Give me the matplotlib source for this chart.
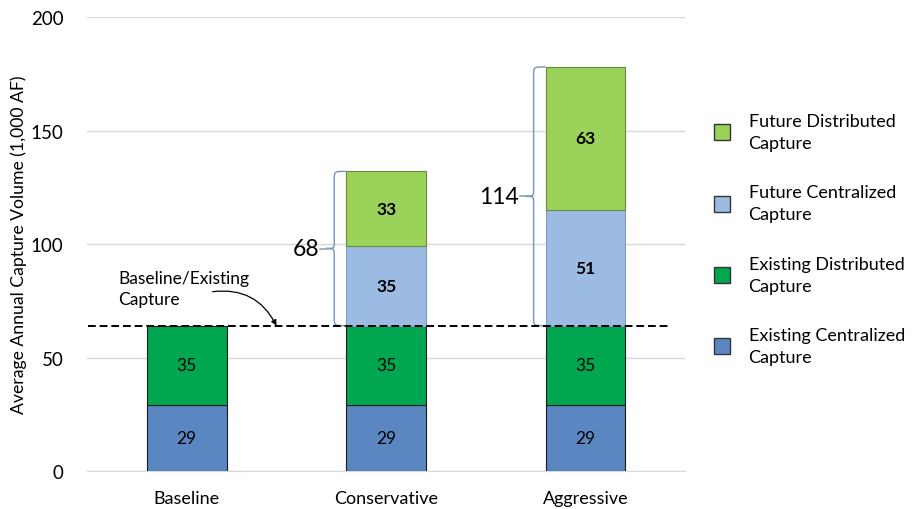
import matplotlib
matplotlib.use("Agg")
import matplotlib.pyplot as plt
from matplotlib.patches import Patch, PathPatch
from matplotlib.path import Path
import numpy as np

plt.rcParams['font.family'] = ['Lato', 'DejaVu Sans']

categories = ["Baseline", "Conservative", "Aggressive"]
existing_centralized = [29, 29, 29]
existing_distributed = [35, 35, 35]
future_centralized = [0, 35, 51]
future_distributed = [0, 33, 63]
brace_labels = {1: "68", 2: "114"}
baseline_level = 64

c_ec = "#5A87C1"
c_ed = "#00A650"
c_fc = "#9BBBE3"
c_fd = "#9BD35A"

fig = plt.figure(figsize=(9.16, 5.10), dpi=100)
ax = fig.add_axes([0.095, 0.0745, 0.653, 0.8902])

x = np.arange(len(categories))
w = 0.4
ec = np.array(existing_centralized)
ed = np.array(existing_distributed)
fc = np.array(future_centralized)
fd = np.array(future_distributed)

ax.bar(x, ec, w, color=c_ec, edgecolor="#1a1a1a", linewidth=0.8, zorder=3)
ax.bar(x, ed, w, bottom=ec, color=c_ed, edgecolor="#1a1a1a", linewidth=0.8, zorder=3)
mask = fc > 0
ax.bar(x[mask], fc[mask], w, bottom=(ec + ed)[mask], color=c_fc, edgecolor="#7f9cc0", linewidth=0.8, zorder=3)
ax.bar(x[mask], fd[mask], w, bottom=(ec + ed + fc)[mask], color=c_fd, edgecolor="#6b8a3a", linewidth=0.8, zorder=3)

vfs = 12.5
for i in range(len(categories)):
    ax.text(x[i], ec[i] / 2, str(ec[i]), ha="center", va="center", fontsize=vfs, zorder=5)
    ax.text(x[i], ec[i] + ed[i] / 2, str(ed[i]), ha="center", va="center", fontsize=vfs, zorder=5)
    if fc[i] > 0:
        ax.text(x[i], ec[i] + ed[i] + fc[i] / 2, str(fc[i]), ha="center", va="center",
                fontsize=vfs, fontweight="bold", zorder=5)
        ax.text(x[i], ec[i] + ed[i] + fc[i] + fd[i] / 2, str(fd[i]), ha="center", va="center",
                fontsize=vfs, fontweight="bold", zorder=5)

# braces
def brace(xr, xs, xt, y0, y1, r=3.5):
    ym = (y0 + y1) / 2
    verts = [
        (xr, y1),
        (xs, y1), (xs, y1), (xs, y1 - r),
        (xs, ym + r),
        (xs, ym), (xs, ym), (xt, ym),
        (xs, ym), (xs, ym), (xs, ym - r),
        (xs, y0 + r),
        (xs, y0), (xs, y0), (xr, y0),
    ]
    codes = [Path.MOVETO,
             Path.CURVE4, Path.CURVE4, Path.CURVE4,
             Path.LINETO,
             Path.CURVE4, Path.CURVE4, Path.CURVE4,
             Path.CURVE4, Path.CURVE4, Path.CURVE4,
             Path.LINETO,
             Path.CURVE4, Path.CURVE4, Path.CURVE4]
    return PathPatch(Path(verts, codes), fill=False, edgecolor="#7f9cc0", lw=1.1, zorder=4)

for i, lab in brace_labels.items():
    top = ec[i] + ed[i] + fc[i] + fd[i]
    xl = x[i] - w / 2
    ax.add_patch(brace(xl, xl - 0.06, xl - 0.10, baseline_level, top))
    ym = (baseline_level + top) / 2
    ax.plot([xl - 0.10, xl - 0.13], [ym, ym], color="#7f9cc0", lw=1.1, zorder=4)
    ax.text(xl - 0.135, ym, lab, ha="right", va="center", fontsize=16.5)

# baseline dashed line
ax.plot([-0.495, 2.415], [baseline_level, baseline_level], color="black", lw=1.4,
        ls=(0, (4, 2)), zorder=6)
ax.text(-0.345, 80.5, "Baseline/Existing\nCapture", fontsize=12.5, ha="left", va="center",
        linespacing=1.35, zorder=7)
ax.annotate("", xy=(0.45, baseline_level), xytext=(0.13, 79),
            arrowprops=dict(arrowstyle="-|>", color="black", lw=0.9,
                            connectionstyle="arc3,rad=-0.35",
                            shrinkA=0, shrinkB=0, mutation_scale=8),
            zorder=7)

ax.set_xlim(-0.5, 2.5)
ax.set_ylim(0, 200)
ax.set_yticks([0, 50, 100, 150, 200])
ax.set_xticks(x)
ax.set_xticklabels(categories, fontsize=13)
ax.tick_params(axis="y", labelsize=13.5, length=0, pad=17)
ax.tick_params(axis="x", length=0, pad=14)
ax.grid(axis="y", color="#d9d9d9", lw=1, zorder=0)
for s in ["top", "right", "left"]:
    ax.spines[s].set_visible(False)
ax.spines["bottom"].set_color("#d9d9d9")
ax.set_ylabel("Average Annual Capture Volume (1,000 AF)", fontsize=12.7)
ax.yaxis.set_label_coords(-0.1, 0.5)

handles = [Patch(facecolor=c_fd, edgecolor="#333333"),
           Patch(facecolor=c_fc, edgecolor="#333333"),
           Patch(facecolor=c_ed, edgecolor="#333333"),
           Patch(facecolor=c_ec, edgecolor="#333333")]
labels = ["Future Distributed\nCapture", "Future Centralized\nCapture",
          "Existing Distributed\nCapture", "Existing Centralized\nCapture"]
leg = fig.legend(handles, labels, loc="upper left", bbox_to_anchor=(0.762, 0.808),
                 frameon=False, fontsize=13, handlelength=0.9, handleheight=1.0,
                 handletextpad=1.0, labelspacing=1.85)
for t in leg.get_texts():
    t.set_linespacing(1.45)

fig.savefig("out.png", dpi=100)
